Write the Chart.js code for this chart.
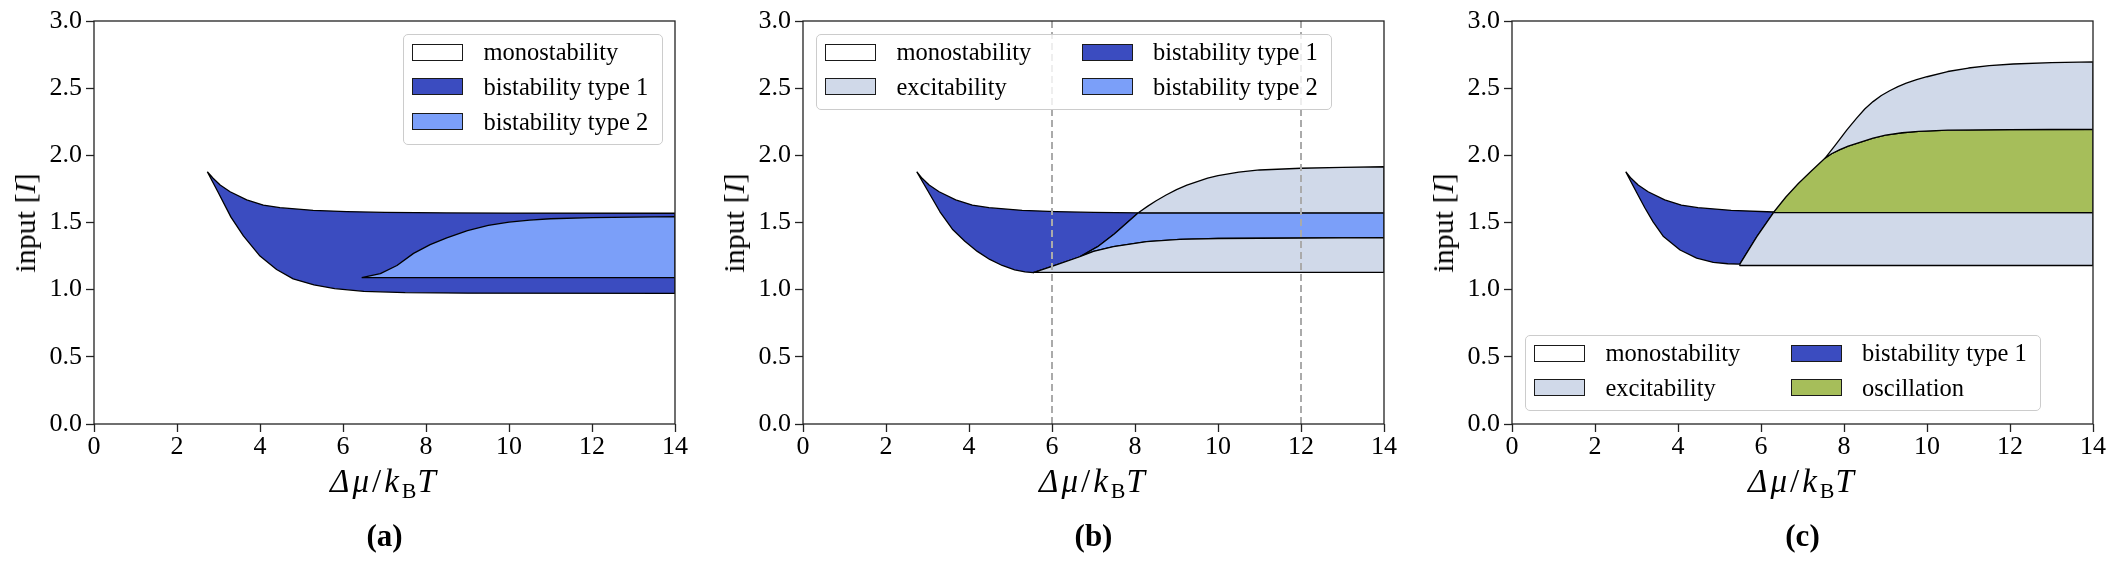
<!DOCTYPE html>
<html>
<head>
<meta charset="utf-8">
<script src="https://cdn.jsdelivr.net/npm/chart.js@4.4.1/dist/chart.umd.min.js"></script>
<style>
html,body{margin:0;padding:0;background:#fff;}
#page{position:relative;width:2118px;height:564px;overflow:hidden;font-family:'Liberation Serif','DejaVu Serif',serif;color:#000;}
#page canvas{position:absolute;top:0;}
.t30{position:absolute;white-space:nowrap;font-size:30px;line-height:30px;}
.xt{position:absolute;white-space:nowrap;font-size:33px;line-height:33px;letter-spacing:3px;}
.cap{position:absolute;white-space:nowrap;font-size:31px;line-height:31px;font-weight:bold;}
.leg{position:absolute;box-sizing:border-box;border:1px solid #cccccc;border-radius:5px;background:rgba(255,255,255,0.8);}
.sw{position:absolute;box-sizing:border-box;width:51px;height:17px;border:1.3px solid #1a1a1a;}
.lt{position:absolute;white-space:nowrap;font-size:24.5px;line-height:25px;}
</style>
</head>
<body>
<div id="page">
  <canvas id="cA" width="671" height="474" style="left:24px"></canvas>
  <canvas id="cB" width="671" height="474" style="left:733px"></canvas>
  <canvas id="cC" width="671" height="474" style="left:1442px"></canvas>
</div>
<script>
// ---------- tick labels ----------
const xTicks = [0, 2, 4, 6, 8, 10, 12, 14];
const xTickLabels = ['0', '2', '4', '6', '8', '10', '12', '14'];
const yTicks = [0, 0.5, 1.0, 1.5, 2.0, 2.5, 3.0];
const yTickLabels = ['0.0', '0.5', '1.0', '1.5', '2.0', '2.5', '3.0'];

// ---------- panel (a) ----------
const aUpperX = [2.73, 2.87, 3.04, 3.28, 3.68, 4.08, 4.48, 5.28, 6.09, 7.0, 8.5, 10.0, 14.0];
const aUpperY = [1.878, 1.829, 1.779, 1.729, 1.668, 1.630, 1.610, 1.591, 1.581, 1.575, 1.571, 1.570, 1.569];
const aLowerX = [2.73, 3.0, 3.3, 3.6, 4.0, 4.4, 4.8, 5.3, 5.8, 6.5, 7.5, 9.0, 14.0];
const aLowerY = [1.878, 1.72, 1.54, 1.40, 1.25, 1.15, 1.08, 1.035, 1.008, 0.988, 0.978, 0.974, 0.973];
const aType2TopX = [6.45, 6.9, 7.3, 7.7, 8.1, 8.5, 9.0, 9.5, 10.0, 10.5, 11.0, 12.0, 14.0];
const aType2TopY = [1.089, 1.12, 1.18, 1.27, 1.335, 1.385, 1.44, 1.478, 1.503, 1.518, 1.528, 1.537, 1.543];
const aType2BotX = [6.45, 14.0];
const aType2BotY = [1.089, 1.089];

// ---------- panel (b) ----------
const bUpperX = [2.74, 2.87, 3.04, 3.28, 3.68, 4.08, 4.48, 5.28, 6.09, 7.0, 8.08];
const bUpperY = [1.878, 1.829, 1.779, 1.729, 1.668, 1.630, 1.610, 1.591, 1.581, 1.575, 1.572];
const bLowerX = [2.74, 3.0, 3.3, 3.6, 3.9, 4.2, 4.5, 4.8, 5.1, 5.35, 5.55];
const bLowerY = [1.878, 1.74, 1.58, 1.45, 1.36, 1.285, 1.225, 1.18, 1.148, 1.132, 1.127];
const bRiseX = [5.55, 6.0, 6.67, 7.1, 7.5, 8.08, 8.3, 8.5, 8.75, 9.0, 9.25, 9.5, 9.75, 10.0, 10.5, 11.0, 12.0, 13.0, 14.0];
const bRiseY = [1.127, 1.174, 1.245, 1.32, 1.415, 1.572, 1.62, 1.66, 1.705, 1.745, 1.778, 1.805, 1.83, 1.849, 1.875, 1.891, 1.904, 1.911, 1.915];
const bType2LowX = [6.67, 7.0, 7.48, 8.28, 9.08, 10.0, 14.0];
const bType2LowY = [1.245, 1.285, 1.32, 1.357, 1.375, 1.381, 1.387];
const bFlatTop = 1.572;
const bExcBottom = 1.129;
const bMarkers = [6, 12];

// ---------- panel (c) ----------
const cUpperX = [2.74, 2.87, 3.04, 3.28, 3.68, 4.08, 4.48, 5.28, 6.31];
const cUpperY = [1.878, 1.829, 1.779, 1.729, 1.668, 1.630, 1.610, 1.591, 1.578];
const cLowerX = [2.74, 3.0, 3.2, 3.4, 3.65, 4.05, 4.45, 4.85, 5.2, 5.49];
const cLowerY = [1.878, 1.725, 1.61, 1.505, 1.395, 1.295, 1.235, 1.203, 1.193, 1.19];
const cRiseX = [5.49, 5.9, 6.31, 6.6, 6.9, 7.2, 7.54, 7.8, 8.07, 8.3, 8.5, 8.7, 8.9, 9.1, 9.3, 9.5, 9.75, 10.0, 10.5, 11.0, 11.5, 12.08, 13.0, 14.0];
const cRiseY = [1.19, 1.395, 1.578, 1.69, 1.79, 1.88, 1.978, 2.08, 2.189, 2.275, 2.345, 2.40, 2.445, 2.481, 2.512, 2.537, 2.563, 2.585, 2.624, 2.65, 2.668, 2.68, 2.69, 2.695];
const cOscTopX = [7.54, 7.7, 7.9, 8.1, 8.4, 8.7, 9.0, 9.4, 9.8, 10.5, 12.0, 14.0];
const cOscTopY = [1.978, 2.012, 2.043, 2.068, 2.098, 2.128, 2.150, 2.168, 2.179, 2.187, 2.192, 2.194];
const cFlat = 1.573;
const cExcBottom = 1.18;

// ---------- legend labels / colours ----------
const colMono = '#ffffff', colBi1 = '#3b4cc0', colBi2 = '#7b9ff9', colExc = '#d0d9e9', colOsc = '#a6be5a';
const legendA = [['monostability', colMono], ['bistability type 1', colBi1], ['bistability type 2', colBi2]];
const legendB = [['monostability', colMono], ['excitability', colExc], ['bistability type 1', colBi1], ['bistability type 2', colBi2]];
const legendC = [['monostability', colMono], ['excitability', colExc], ['bistability type 1', colBi1], ['oscillation', colOsc]];
const captions = ['(a)', '(b)', '(c)'];

// ---------- helpers ----------
const pts = (xs, ys) => xs.map((x, i) => ({x: x, y: ys[i]}));
const seg = (xs, ys, x0, x1) => pts(xs, ys).filter(p => p.x >= x0 - 1e-9 && p.x <= x1 + 1e-9);
const rev = a => a.slice().reverse();
const P = (x, y) => ({x: x, y: y});

function region(points, color, order) {
  return {data: points, backgroundColor: color, borderColor: '#000', borderWidth: 1.3,
          fill: 'shape', pointRadius: 0, order: order, tension: 0, borderJoinStyle: 'round'};
}
function vline(x) {
  return {data: [P(x, 0), P(x, 3)], borderColor: '#aaaaaa', borderWidth: 2, borderDash: [7, 4],
          fill: false, pointRadius: 0, order: 0};
}

const framePlugin = {
  id: 'frame',
  afterDraw(chart) {
    const {ctx, chartArea: a} = chart;
    ctx.save();
    ctx.strokeStyle = '#222';
    ctx.lineWidth = 1.3;
    ctx.strokeRect(a.left, a.top, a.right - a.left, a.bottom - a.top);
    ctx.restore();
  }
};

const tickFont = {family: "'Liberation Serif', 'DejaVu Serif', serif", size: 26};

function makeChart(id, datasets) {
  return new Chart(document.getElementById(id), {
    type: 'line',
    data: {datasets: datasets},
    plugins: [framePlugin],
    options: {
      animation: false, responsive: false, maintainAspectRatio: false, events: [],
      layout: {padding: {top: 21, right: 20, left: 0, bottom: 0}},
      plugins: {legend: {display: false}, tooltip: {enabled: false}},
      scales: {
        x: {
          type: 'linear', min: 0, max: 14,
          afterBuildTicks: s => { s.ticks = xTicks.map(v => ({value: v})); },
          afterFit: s => { s.height = 50; },
          ticks: {font: tickFont, color: '#000', padding: 0, maxRotation: 0,
                  callback: (v, i) => xTickLabels[i]},
          grid: {display: true, drawOnChartArea: false, drawTicks: true, tickLength: 8,
                 tickColor: '#222', tickWidth: 1.3},
          border: {display: false}
        },
        y: {
          type: 'linear', min: 0, max: 3,
          afterBuildTicks: s => { s.ticks = yTicks.map(v => ({value: v})); },
          afterFit: s => { s.width = 70; },
          ticks: {font: tickFont, color: '#000', padding: 4,
                  callback: (v, i) => yTickLabels[i]},
          grid: {display: true, drawOnChartArea: false, drawTicks: true, tickLength: 8,
                 tickColor: '#222', tickWidth: 1.3},
          border: {display: false}
        }
      }
    }
  });
}

// ----- panel a -----
makeChart('cA', [
  region(pts(aUpperX, aUpperY).concat(rev(pts(aLowerX, aLowerY))), colBi1, 3),
  region(pts(aType2TopX, aType2TopY).concat(rev(pts(aType2BotX, aType2BotY))), colBi2, 2)
]);

// ----- panel b -----
makeChart('cB', [
  region(pts(bUpperX, bUpperY)
          .concat(rev(seg(bRiseX, bRiseY, 5.55, 8.08)))
          .concat(rev(pts(bLowerX, bLowerY))), colBi1, 5),
  region(seg(bRiseX, bRiseY, 6.67, 8.08)
          .concat([P(14, bFlatTop)])
          .concat(rev(pts(bType2LowX, bType2LowY))), colBi2, 4),
  region(seg(bRiseX, bRiseY, 5.55, 6.67)
          .concat(pts(bType2LowX, bType2LowY))
          .concat([P(14, bExcBottom), P(5.55, bExcBottom), P(5.55, 1.127)]), colExc, 3),
  region(seg(bRiseX, bRiseY, 8.08, 14)
          .concat([P(14, bFlatTop), P(8.08, bFlatTop)]), colExc, 2),
  vline(bMarkers[0]),
  vline(bMarkers[1])
]);

// ----- panel c -----
makeChart('cC', [
  region(pts(cUpperX, cUpperY)
          .concat(rev(seg(cRiseX, cRiseY, 5.49, 6.31)))
          .concat(rev(pts(cLowerX, cLowerY))), colBi1, 5),
  region(seg(cRiseX, cRiseY, 5.49, 6.31)
          .concat([P(14, cFlat), P(14, cExcBottom), P(5.49, cExcBottom), P(5.49, 1.19)]), colExc, 4),
  region(seg(cRiseX, cRiseY, 6.31, 7.54)
          .concat(pts(cOscTopX, cOscTopY))
          .concat([P(14, cFlat), P(6.31, cFlat)]), colOsc, 3),
  region(seg(cRiseX, cRiseY, 7.54, 14)
          .concat(rev(pts(cOscTopX, cOscTopY))), colExc, 2)
]);

// ---------- text overlays ----------
const page = document.getElementById('page');
const axLeft = [94, 803, 1512];
const axRight = [675, 1384, 2093];

function addDiv(cls, html, style) {
  const d = document.createElement('div');
  d.className = cls;
  d.innerHTML = html;
  Object.assign(d.style, style);
  page.appendChild(d);
  return d;
}

for (let k = 0; k < 3; k++) {
  const cx = (axLeft[k] + axRight[k]) / 2;
  addDiv('xt', '<i>Δμ</i>/<i>k</i><span style="font-size:22px;position:relative;top:6px;letter-spacing:1px">B</span><i>T</i>',
         {left: cx + 'px', top: '465px', transform: 'translateX(-50%)'});
  addDiv('t30', 'input [<i>I</i>]',
         {left: (axLeft[k] - 69) + 'px', top: '222.5px', transform: 'translate(-50%,-50%) rotate(-90deg)'});
  addDiv('cap', captions[k], {left: cx + 'px', top: '520px', transform: 'translateX(-50%)'});
}

function buildLegend(box, items, ncol) {
  addDiv('leg', '', {left: box.l + 'px', top: box.t + 'px', width: box.w + 'px', height: box.h + 'px'});
  const nrow = Math.ceil(items.length / ncol);
  items.forEach((it, i) => {
    const col = Math.floor(i / nrow), row = i % nrow;
    const sx = box.l + 9 + col * 256.5, sy = box.t + 9.6 + row * 34.7;
    addDiv('sw', '', {left: sx + 'px', top: sy + 'px', background: it[1]});
    addDiv('lt', it[0], {left: (sx + 71.5) + 'px', top: (sy - 4.5) + 'px'});
  });
}
buildLegend({l: 403, t: 34, w: 260, h: 111}, legendA, 1);
buildLegend({l: 816, t: 34, w: 516, h: 76}, legendB, 2);
buildLegend({l: 1525, t: 335, w: 516, h: 76}, legendC, 2);
</script>
</body>
</html>
